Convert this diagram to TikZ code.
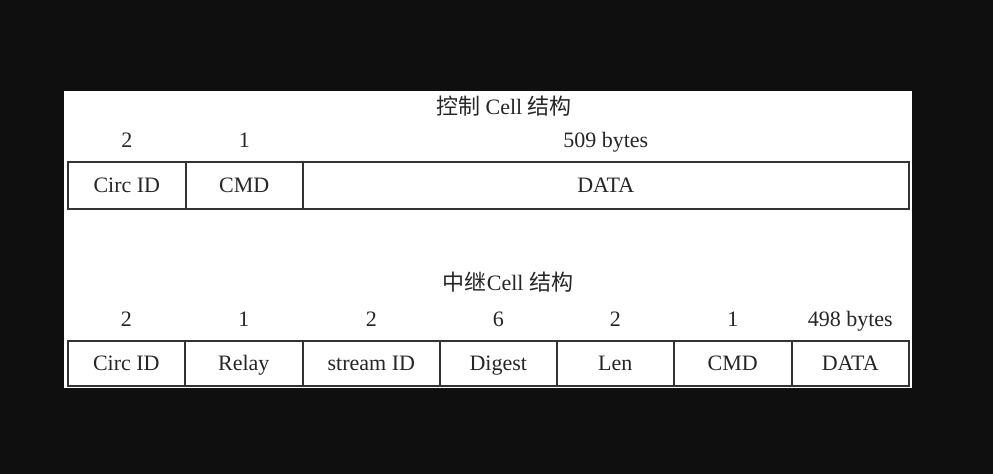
\documentclass[tikz,border=0pt]{standalone}
\usepackage{fontspec}
\setmainfont{Liberation Serif}
\newfontfamily\cjk{Noto Sans CJK SC}
\definecolor{bgdark}{HTML}{0F0F0F}
\definecolor{edge}{HTML}{333333}
\begin{document}
\begin{tikzpicture}[x=1pt,y=-1pt,
  field/.style={draw=edge,line width=1.6pt,inner sep=0pt,anchor=north west,
    text height=17pt,text depth=3pt,
    font=\fontsize{22}{24}\selectfont,text=black!85},
  size/.style={inner sep=0pt,text height=17pt,text depth=3pt,
    font=\fontsize{22}{24}\selectfont,text=black!85},
  title/.style={inner sep=0pt,text height=18pt,text depth=2pt,
    font=\fontsize{22}{24}\selectfont,text=black!85}]
% canvas and white panel
\fill[bgdark] (0,0) rectangle (993,474);
\useasboundingbox (0,0) rectangle (993,474);
\fill[white] (64,91) rectangle (912,388);

% control cell
\node[title] (t1) at (504,106) {{\cjk 控制} Cell {\cjk 结构}};
\node[field,minimum width=118pt,minimum height=47pt] (c1) at (67,161) {Circ ID};
\node[field,minimum width=117pt,minimum height=47pt] (c2) at (185,161) {CMD};
\node[field,minimum width=606pt,minimum height=47pt] (c3) at (302,161) {DATA};
\node[size] (s1) at (c1.north |- 0,140) {2};
\node[size] (s2) at (c2.north |- 0,140) {1};
\node[size] (s3) at (c3.north |- 0,140) {509 bytes};

% relay cell
\node[title] (t2) at (508,282) {{\cjk 中继}Cell {\cjk 结构}};
\node[field,minimum width=117pt,minimum height=45pt] (r1) at (67,340) {Circ ID};
\node[field,minimum width=118pt,minimum height=45pt] (r2) at (184,340) {Relay};
\node[field,minimum width=137pt,minimum height=45pt] (r3) at (302,340) {stream ID};
\node[field,minimum width=117pt,minimum height=45pt] (r4) at (439,340) {Digest};
\node[field,minimum width=117pt,minimum height=45pt] (r5) at (556,340) {Len};
\node[field,minimum width=118pt,minimum height=45pt] (r6) at (673,340) {CMD};
\node[field,minimum width=117pt,minimum height=45pt] (r7) at (791,340) {DATA};
\node[size] (q1) at (r1.north |- 0,319) {2};
\node[size] (q2) at (r2.north |- 0,319) {1};
\node[size] (q3) at (r3.north |- 0,319) {2};
\node[size] (q4) at (r4.north |- 0,319) {6};
\node[size] (q5) at (r5.north |- 0,319) {2};
\node[size] (q6) at (r6.north |- 0,319) {1};
\node[size] (q7) at (r7.north |- 0,319) {498 bytes};
\end{tikzpicture}
\end{document}
